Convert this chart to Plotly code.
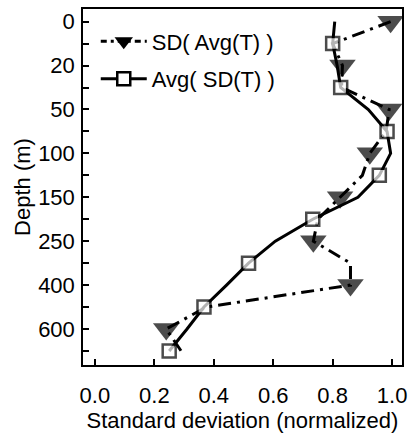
import plotly.graph_objects as go

# Standard depth levels (m)
depths = [0, 10, 20, 30, 50, 75, 100, 125, 150, 200, 250, 300, 400, 500, 600, 700]
# Tick labels shown on the depth axis
depth_labels = [0, 20, 50, 100, 150, 250, 400, 600]

# SD( Avg(T) )  - normalized
sd_avg = [0.995, 0.80, 0.833, 0.83, 0.99, 0.98, 0.925, 0.90, 0.825, 0.75,
          0.735, 0.86, 0.86, 0.375, 0.24, 0.29]
# Avg( SD(T) )  - normalized
avg_sd = [0.807, 0.80, 0.815, 0.827, 0.92, 0.983, 0.995, 0.957, 0.885, 0.733,
          0.607, 0.517, 0.443, 0.367, 0.31, 0.25]

names = ["SD( Avg(T) )", "Avg( SD(T) )"]

FONT = "Liberation Sans, Arial, sans-serif"
idx = list(range(len(depths)))

tri_sizes = [23 if i % 2 == 0 else 0 for i in idx]
sq_sizes = [13 if i % 2 == 1 else 0 for i in idx]

fig = go.Figure()

fig.add_trace(go.Scatter(
    x=sd_avg, y=idx, mode="lines+markers", showlegend=False, cliponaxis=False,
    line=dict(color="black", width=3, dash="13px,6px,3px,6px"),
    marker=dict(symbol="triangle-down", size=tri_sizes, color="black", line=dict(width=0)),
))
fig.add_trace(go.Scatter(
    x=avg_sd, y=idx, mode="lines+markers", showlegend=False, cliponaxis=False,
    line=dict(color="black", width=3),
    marker=dict(symbol="square", size=sq_sizes, color="white", line=dict(color="black", width=2.5)),
))

# legend entries
fig.add_trace(go.Scatter(
    x=[None], y=[None], mode="lines+markers", name=names[0], legendgroup="a",
    line=dict(color="black", width=3, dash="6px,4px,3px,4px"),
    marker=dict(symbol="triangle-down", size=22, color="black", line=dict(width=0)),
))
fig.add_trace(go.Scatter(
    x=[None], y=[None], mode="lines+markers", name=names[1], legendgroup="b",
    line=dict(color="black", width=3),
    marker=dict(symbol="square", size=13, color="white", line=dict(color="black", width=2.5)),
))

tickvals = idx
ticktext = [str(d) if d in depth_labels else "" for d in depths]

fig.update_layout(
    width=414, height=436,
    margin=dict(l=83, r=9, t=7, b=63),
    paper_bgcolor="white", plot_bgcolor="white",
    font=dict(family=FONT, size=22, color="black"),
    showlegend=True,
    legend=dict(
        x=0.04, y=0.968, xanchor="left", yanchor="top",
        bgcolor="rgba(0,0,0,0)", borderwidth=0,
        font=dict(family=FONT, size=22, color="black"),
        itemwidth=46, traceorder="grouped", tracegroupgap=6,
    ),
    xaxis=dict(
        range=[-0.04, 1.0333], tickvals=[0, 0.2, 0.4, 0.6, 0.8, 1.0], tickformat=".1f",
        ticks="inside", ticklen=6, tickwidth=1.5, tickcolor="black",
        showline=True, linecolor="black", linewidth=1.5, mirror=True,
        showgrid=False, zeroline=False, ticklabelstandoff=10,
        title=dict(text="Standard deviation (normalized)", standoff=5,
                   font=dict(family=FONT, size=22)),
    ),
    yaxis=dict(
        range=[15.64, -0.576], tickmode="array", tickvals=tickvals, ticktext=ticktext,
        ticks="inside", ticklen=6, tickwidth=1.5, tickcolor="black",
        showline=True, linecolor="black", linewidth=1.5, mirror=True,
        showgrid=False, zeroline=False, ticklabelstandoff=2,
        title=dict(text="Depth (m)", standoff=1, font=dict(family=FONT, size=22)),
    ),
)

fig.write_html("out.html", config={"displayModeBar": False},
               post_script="document.body.style.margin='0';")
